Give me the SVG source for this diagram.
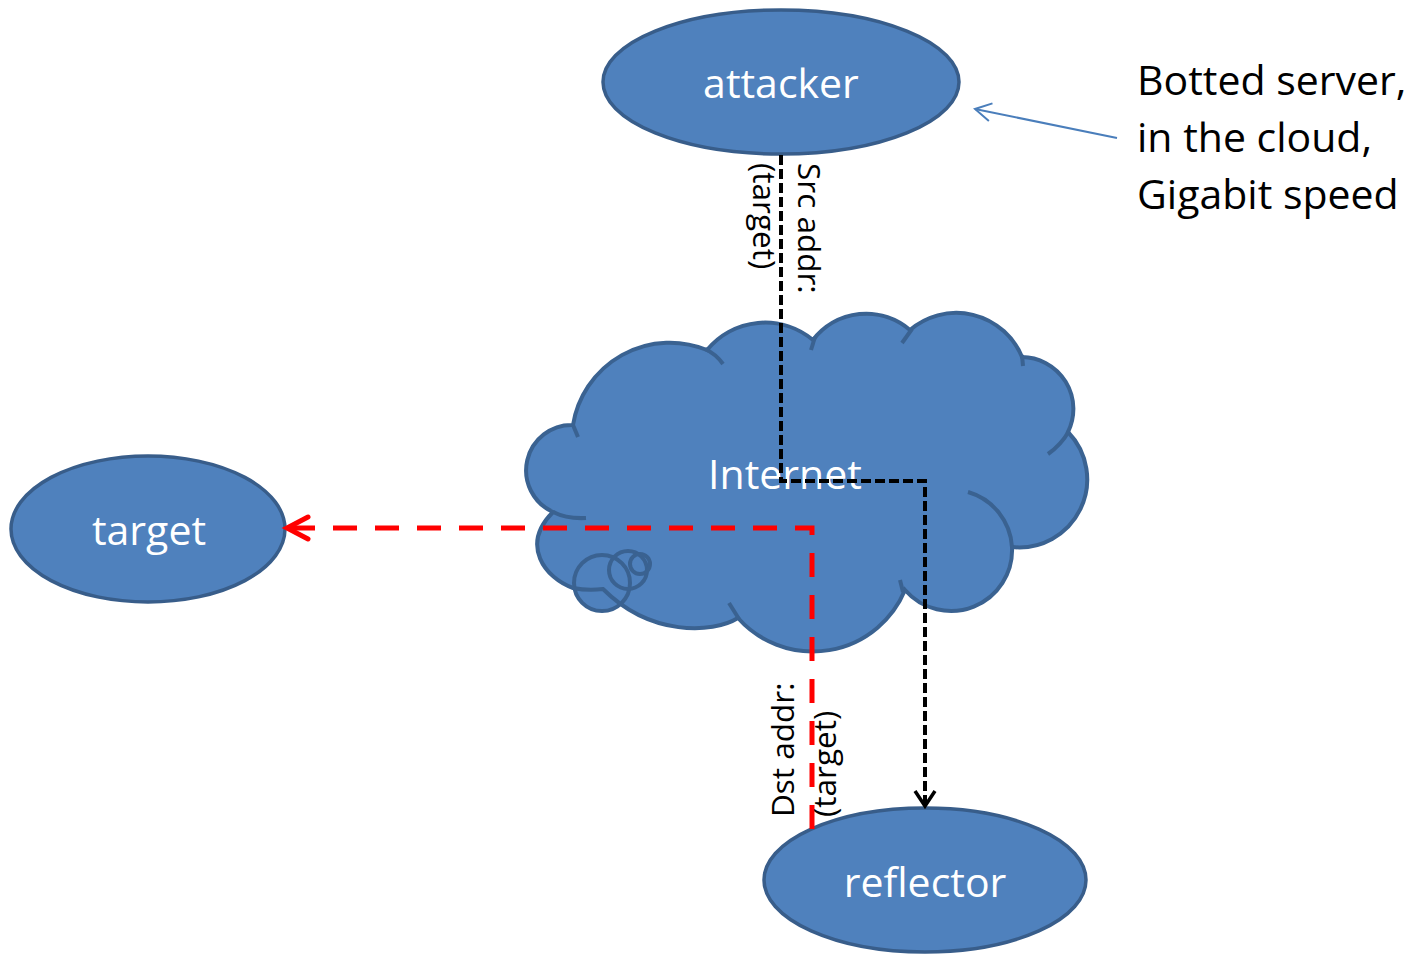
<svg xmlns="http://www.w3.org/2000/svg" width="1414" height="954" viewBox="0 0 1414 954">
  <style>
    .node { fill: #4f81bd; stroke: #385d8a; stroke-width: 3.5; }
    .cloudline { fill: none; stroke: #3a6291; stroke-width: 4; stroke-linecap: butt; }
    .bubfill { fill: #4f81bd; stroke: none; }
    .lbl { font-family: "Open Sans", "Liberation Sans", sans-serif; font-size: 41px; fill: #ffffff; text-anchor: middle; }
    .note { font-family: "Open Sans", "Liberation Sans", sans-serif; font-size: 41px; fill: #000000; }
    .vlbl { font-family: "Open Sans", "Liberation Sans", sans-serif; font-size: 31.5px; fill: #000000; }
    .blk { fill: none; stroke: #000000; stroke-width: 4; stroke-dasharray: 10 4; }
    .red { fill: none; stroke: #ff0000; stroke-width: 5; stroke-dasharray: 24 18; }
    .blue { fill: none; stroke: #4a7ebb; stroke-width: 2; }
  </style>
  <defs>
    <marker id="arrBlack" markerUnits="userSpaceOnUse" viewBox="0 0 24 24" markerWidth="24" markerHeight="24" refX="20" refY="12" orient="auto" overflow="visible">
      <path d="M5,2 L20,12 L5,22" fill="none" stroke="#000" stroke-width="3.5"/>
    </marker>
    <marker id="arrRed" markerUnits="userSpaceOnUse" viewBox="0 0 30 30" markerWidth="30" markerHeight="30" refX="26" refY="15" orient="auto" overflow="visible">
      <path d="M5,4 L26,15 L5,26" fill="none" stroke="#ff0000" stroke-width="5" stroke-linecap="round" stroke-linejoin="miter"/>
    </marker>
    <marker id="arrBlue" markerUnits="userSpaceOnUse" viewBox="0 0 24 24" markerWidth="24" markerHeight="24" refX="20" refY="12" orient="auto" overflow="visible">
      <path d="M4,3 L20,12 L4,21" fill="none" stroke="#4a7ebb" stroke-width="2"/>
    </marker>
  </defs>

  <rect x="0" y="0" width="1414" height="954" fill="#ffffff"/>

  <g id="cloud">
    <path id="cloudBody" d="M553,512 A45.5 45.5 0 0 1 573,425 A98 98 0 0 1 707,350 A75 75 0 0 1 813,340 A67 67 0 0 1 910,330 A71 71 0 0 1 1022,357 A52 52 0 0 1 1068,432 A68 68 0 0 1 1012,547 A61 61 0 0 1 905,590 A100 100 0 0 1 738,618 C712,634 650,636 603,589 Q588,591 573,588 C545,578 520,545 553,512 Z" fill="#4f81bd" stroke="none"/>
    <circle cx="602" cy="583" r="28" class="bubfill"/>
    <circle cx="628" cy="570" r="19" class="bubfill"/>
    <circle cx="640" cy="564" r="10" class="bubfill"/>
    <circle cx="602" cy="583" r="28" class="cloudline"/>
    <circle cx="628" cy="570" r="19" class="cloudline"/>
    <circle cx="640" cy="564" r="10" class="cloudline"/>
    <path class="cloudline" d="M553,512 A45.5 45.5 0 0 1 573,425 A98 98 0 0 1 707,350 A75 75 0 0 1 813,340 A67 67 0 0 1 910,330 A71 71 0 0 1 1022,357 A52 52 0 0 1 1068,432 A68 68 0 0 1 1012,547 A61 61 0 0 1 905,590 A100 100 0 0 1 738,618 C712,634 650,636 603,589 Q588,591 573,588 C545,578 520,545 553,512 Z"/>
    <path class="cloudline" d="M553,512 Q567,519 586,518"/>
    <path class="cloudline" d="M573,425 L578,437"/>
    <path class="cloudline" d="M705,349 Q716,354 723,364"/>
    <path class="cloudline" d="M815,337 L811,350"/>
    <path class="cloudline" d="M912,329 L902,343"/>
    <path class="cloudline" d="M1022,355 L1023,366"/>
    <path class="cloudline" d="M1069,431 Q1061,445 1048,454"/>
    <path class="cloudline" d="M968,492 A61 61 0 0 1 1012,547"/>
    <path class="cloudline" d="M903,592 L900,580"/>
    <path class="cloudline" d="M739,619 L729,603"/>
    <text class="lbl" x="785" y="489">Internet</text>
  </g>

  <g id="attacker">
    <ellipse cx="781" cy="82" rx="178" ry="72" class="node"/>
    <text class="lbl" x="781" y="98">attacker</text>
  </g>

  <g id="target">
    <ellipse cx="148" cy="529" rx="137" ry="73" class="node"/>
    <text class="lbl" x="149" y="545">target</text>
  </g>

  <g id="reflector">
    <ellipse cx="925" cy="880" rx="161" ry="72" class="node"/>
    <text class="lbl" x="925" y="897">reflector</text>
  </g>

  <g id="note">
    <text class="note" x="1137" y="95">Botted server,</text>
    <text class="note" x="1137" y="152">in the cloud,</text>
    <text class="note" x="1137" y="209">Gigabit speed</text>
  </g>

  <g id="connectors">
    <path class="blk" d="M781,155 L781,481 L925,481 L925,806" marker-end="url(#arrBlack)"/>
    <path class="red" d="M812,829 L812,528 L287,528" marker-end="url(#arrRed)"/>
    <path class="blue" d="M1117,138 L975,109" marker-end="url(#arrBlue)"/>
    <text class="vlbl" transform="translate(798,163) rotate(90)">Src addr:</text>
    <text class="vlbl" transform="translate(753,163) rotate(90)">(target)</text>
    <text class="vlbl" transform="translate(794,817) rotate(-90)">Dst addr:</text>
    <text class="vlbl" transform="translate(836,817) rotate(-90)">(target)</text>
  </g>
</svg>
